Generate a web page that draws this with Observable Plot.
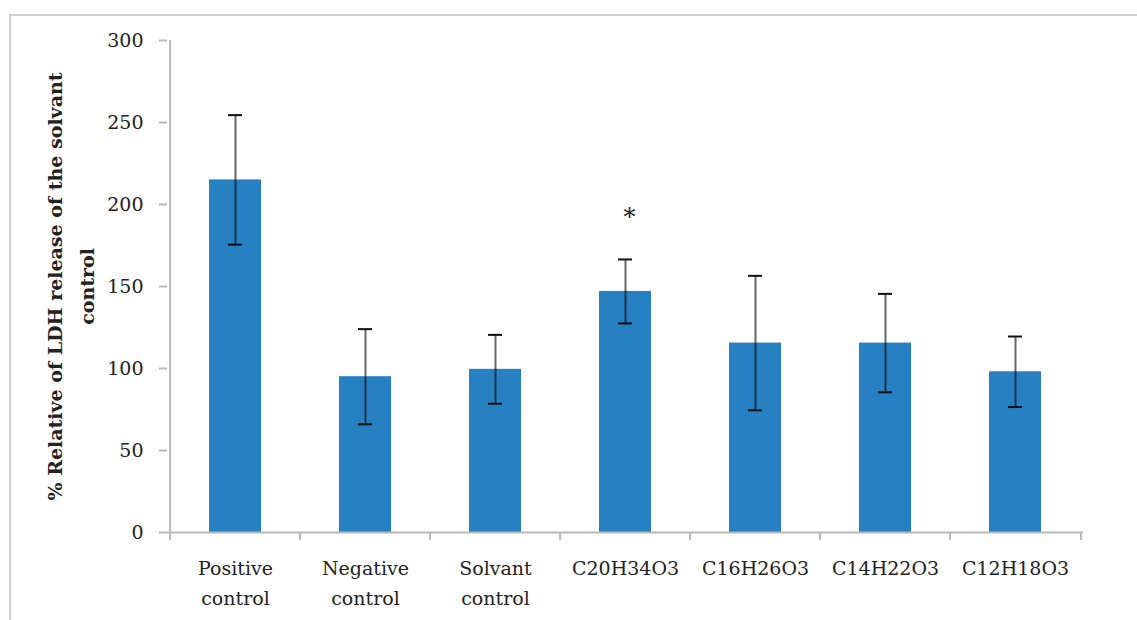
<!DOCTYPE html>
<html><head><meta charset="utf-8">
<script src="https://cdn.jsdelivr.net/npm/d3@7"></script>
<script src="https://cdn.jsdelivr.net/npm/@observablehq/plot@0.6"></script>
<style>
body{margin:0;background:#fff}
#wrap{position:relative;width:1137px;height:620px;overflow:hidden}
#frame{position:absolute;left:9px;top:14px;right:-5px;bottom:-5px;border:2px solid #cfcfcf}
#chart{position:absolute;left:0;top:0}
</style></head><body>
<div id="wrap"><div id="frame"></div><div id="chart"></div></div>
<script>
const categories = ["Positive\ncontrol","Negative\ncontrol","Solvant\ncontrol","C20H34O3","C16H26O3","C14H22O3","C12H18O3"];
const means = [215, 95, 99.5, 147, 115.5, 115.5, 98];
const errors = [39.5, 29, 21, 19.5, 41, 30, 21.5];
const significance = ["", "", "", "*", "", "", ""];
const yTicks = [0, 50, 100, 150, 200, 250, 300];
const yLabel = "% Relative of LDH release of the solvant\ncontrol";

const data = categories.map((c, i) => ({category: c, mean: means[i], err: errors[i], sig: significance[i]}));

const W = 1137, H = 620, mL = 167, mR = 54, mT = 40, mB = 88;
const step = (W - mL - mR) / categories.length;
const axisGray = "#b8b8b8";
const yMin = yTicks[0], yMax = yTicks[yTicks.length - 1];

const plot = Plot.plot({
  width: W, height: H, marginLeft: mL, marginRight: mR, marginTop: mT, marginBottom: mB,
  style: {fontFamily: "'DejaVu Serif', serif", fontSize: "19px", color: "#1a1a1a", background: "transparent", overflow: "visible"},
  x: {domain: categories, paddingInner: 0.6, paddingOuter: 0.3, align: 0.5, axis: null},
  y: {domain: [yMin, yMax], axis: null},
  marks: [
    Plot.barY(data, {x: "category", y: "mean", fill: "#2780c2"}),
    Plot.ruleX(data, {x: "category", y1: d => d.mean - d.err, y2: d => d.mean + d.err, stroke: "#000", strokeOpacity: 0.6, strokeWidth: 2}),
    Plot.tickY(data, {x: "category", y: d => d.mean + d.err, stroke: "#111", strokeWidth: 2, inset: 19}),
    Plot.tickY(data, {x: "category", y: d => d.mean - d.err, stroke: "#111", strokeWidth: 2, inset: 19}),
    Plot.ruleY([yMin], {stroke: axisGray, strokeWidth: 2}),
    Plot.ruleX([categories[0]], {y1: yMin, y2: yMax, dx: -step / 2, stroke: axisGray, strokeWidth: 2}),
    Plot.axisY({ticks: yTicks, tickSize: 8, tickPadding: 16, stroke: axisGray, strokeWidth: 2, fill: "#222", label: null}),
    Plot.axisX({ticks: categories, tickSize: 8, tickFormat: () => "", dx: -step / 2, stroke: axisGray, strokeWidth: 2, label: null}),
    Plot.axisX({ticks: [categories[categories.length - 1]], tickSize: 8, tickFormat: () => "", dx: step / 2, stroke: axisGray, strokeWidth: 2, label: null}),
    Plot.text(data, {x: "category", text: "category", frameAnchor: "bottom", lineAnchor: "top", dy: 21, lineHeight: 1.58, fill: "#222"}),
    Plot.text(data.filter(d => d.sig), {x: "category", y: d => d.mean + d.err, text: "sig", dx: 4, dy: -42, fontSize: 24, fill: "#222"}),
    Plot.text([yLabel], {frameAnchor: "left", textAnchor: "middle", rotate: -90, dx: -100, fontWeight: "bold", lineAnchor: "middle", lineHeight: 1.68, fontSize: 19, fill: "#222"})
  ]
});
document.getElementById("chart").appendChild(plot);
</script>
</body></html>
